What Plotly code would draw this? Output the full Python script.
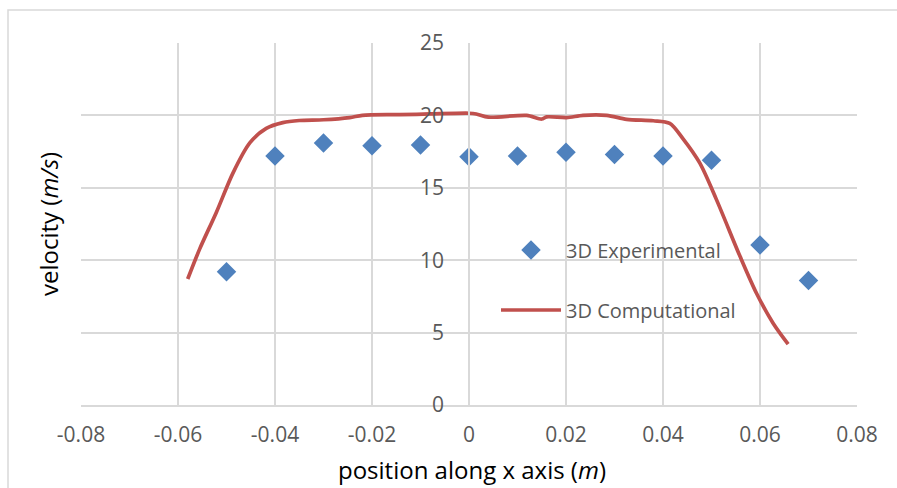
import plotly.graph_objects as go

# Experimental data
exp_x = [-0.05, -0.04, -0.03, -0.02, -0.01, 0.0, 0.01, 0.02, 0.03, 0.04, 0.05, 0.06, 0.07]
exp_y = [9.2, 17.2, 18.1, 17.9, 17.95, 17.15, 17.2, 17.45, 17.3, 17.2, 16.9, 11.05, 8.6]

# Computational data
comp_x = [-0.058, -0.0555, -0.0521, -0.0487, -0.0452, -0.0418, -0.0384, -0.035, -0.030,
          -0.0246, -0.022, -0.0163, -0.0143, -0.008, 0.0, 0.0015, 0.004, 0.0119, 0.015,
          0.016, 0.0201, 0.0235, 0.0284, 0.0325, 0.038, 0.0414, 0.0441, 0.0476, 0.051,
          0.0559, 0.0593, 0.0627, 0.0658]
comp_y = [8.7, 10.8, 13.3, 16.0, 18.1, 19.1, 19.5, 19.65, 19.7,
          19.85, 20.0, 20.05, 20.05, 20.1, 20.15, 20.1, 19.88, 20.0, 19.75,
          19.9, 19.85, 20.0, 20.0, 19.73, 19.63, 19.45, 18.4, 16.7, 14.2,
          10.25, 7.7, 5.65, 4.2]

x_tickvals = [-0.08, -0.06, -0.04, -0.02, 0, 0.02, 0.04, 0.06, 0.08]
x_ticktext = ["-0.08", "-0.06", "-0.04", "-0.02", "0", "0.02", "0.04", "0.06", "0.08"]
y_tickvals = [0, 5, 10, 15, 20, 25]

FONT = "Open Sans"
GRID = "#D9D9D9"
TICKC = "#595959"

W, H = 897, 488
ML, MR, MT, MB = 81, 40, 43, 83
pw = W - ML - MR
ph = H - MT - MB

def px2x(px):
    return (px - ML) / pw

def py2y(py):
    return (H - MB - py) / ph

fig = go.Figure()
fig.add_trace(go.Scatter(
    x=exp_x, y=exp_y, mode="markers", name="3D Experimental",
    marker=dict(symbol="diamond", size=15, color="#4F81BD"),
    legend="legend",
))
fig.add_trace(go.Scatter(
    x=comp_x, y=comp_y, mode="lines", name="3D Computational",
    line=dict(color="#C0504D", width=3.7, shape="spline", smoothing=0.8),
    legend="legend2",
))

legend_common = dict(
    bgcolor="rgba(0,0,0,0)", borderwidth=0,
    font=dict(family=FONT, size=20, color=TICKC),
    xanchor="left", yanchor="middle", itemwidth=60,
)

fig.update_layout(
    width=W, height=H,
    margin=dict(l=ML, r=MR, t=MT, b=MB, pad=0),
    paper_bgcolor="white", plot_bgcolor="white",
    font=dict(family=FONT, color=TICKC),
    xaxis=dict(
        range=[-0.08, 0.08], tickvals=x_tickvals, ticktext=x_ticktext,
        showgrid=True, gridcolor=GRID, gridwidth=1.5,
        zeroline=False, showline=True, linecolor=GRID, linewidth=1.5,
        ticks="", tickfont=dict(family=FONT, size=21, color=TICKC),
        ticklabelstandoff=10, mirror=False,
    ),
    yaxis=dict(
        range=[0, 25], tickvals=y_tickvals,
        showgrid=True, gridcolor=GRID, gridwidth=1.5,
        zeroline=False, showline=True, linecolor=GRID, linewidth=1.5,
        anchor="free", position=0.5,
        ticks="", tickfont=dict(family=FONT, size=21, color=TICKC),
        ticklabelstandoff=20,
    ),
    legend=dict(x=px2x(496), y=py2y(250), **legend_common),
    legend2=dict(x=px2x(496), y=py2y(310), **legend_common),
    showlegend=True,
    annotations=[
        dict(text="position along x axis (<i>m</i>)", xref="paper", yref="paper",
             x=px2x(472), y=py2y(469), xanchor="center", yanchor="middle", showarrow=False,
             font=dict(family=FONT, size=24, color="black")),
        dict(text="velocity (<i>m/s</i>)", xref="paper", yref="paper",
             x=px2x(48), y=0.5, xanchor="center", yanchor="middle", showarrow=False,
             textangle=-90, font=dict(family=FONT, size=24, color="black")),
    ],
    shapes=[
        dict(type="rect", xref="paper", yref="paper", layer="below",
             x0=px2x(8), x1=px2x(W + 20), y0=py2y(10), y1=py2y(H + 20),
             line=dict(color=GRID, width=1.5), fillcolor="rgba(0,0,0,0)"),
    ],
)

fig.write_html("out.html")
